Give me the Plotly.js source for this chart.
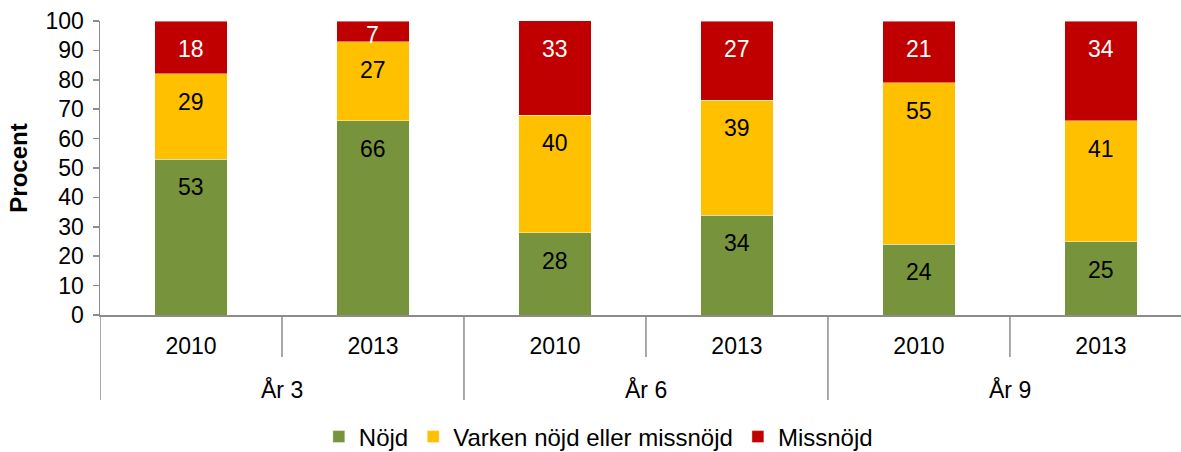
<!DOCTYPE html>
<html>
<head>
<meta charset="utf-8">
<script src="https://cdn.plot.ly/plotly-3.0.1.min.js"></script>
<style>html,body{margin:0;padding:0;background:#fff;}#chart{width:1181px;height:452px;}</style>
</head>
<body>
<div id="chart"></div>
<script>
const groups = ["År 3", "År 3", "År 6", "År 6", "År 9", "År 9"];
const years = ["2010", "2013", "2010", "2013", "2010", "2013"];
const groupNames = ["År 3", "År 6", "År 9"];
const nojd = [53, 66, 28, 34, 24, 25];
const varken = [29, 27, 40, 39, 55, 41];
const missnojd = [18, 7, 33, 27, 21, 34];
const yTicks = [0, 10, 20, 30, 40, 50, 60, 70, 80, 90, 100];

const xs = years.map((_, i) => i);
const FONT = "Liberation Sans, Arial, sans-serif";
const FS = 23;
const PLOT_H = 294; // plot height in px (t=21, b=137 of 452)
const PX_PER_UNIT = PLOT_H / 100;

const series = [
  {name: "Nöjd", vals: nojd, color: "#77933C", txt: "#000"},
  {name: "Varken nöjd eller missnöjd", vals: varken, color: "#FFC000", txt: "#000"},
  {name: "Missnöjd", vals: missnojd, color: "#C00000", txt: "#fff"}
];

const data = series.map(s => ({
  type: "bar", name: s.name, x: xs, y: s.vals, width: 0.4,
  marker: {color: s.color, line: {color: "rgba(255,255,255,0.55)", width: 0.8}},
  textposition: "none", hoverinfo: "skip"
}));

const shapes = [];
const annotations = [];

// data labels: placed near the inside top of each segment (Excel "inside end" style)
const cum = xs.map(() => 0);
series.forEach(s => {
  s.vals.forEach((v, i) => {
    cum[i] += v;
    const top = Math.min(cum[i], 100);
    const shiftPx = Math.min(28, v * PX_PER_UNIT / 2 + 4);
    annotations.push({xref: "x", yref: "y", x: xs[i], y: top - shiftPx / PX_PER_UNIT,
      text: String(v), showarrow: false, xanchor: "center", yanchor: "middle",
      font: {family: FONT, size: FS, color: s.txt}});
  });
});

for (let i = 0; i < years.length - 1; i++) {
  const sameGroup = groups[i] === groups[i + 1];
  shapes.push({type: "line", xref: "x", yref: "paper", x0: i + 0.5, x1: i + 0.5,
    y0: 0, y1: sameGroup ? -0.143 : -0.289, line: {color: "#8c8c8c", width: 1.5}});
}
shapes.push({type: "line", xref: "x", yref: "paper", x0: -0.5, x1: -0.5, y0: 0, y1: -0.289,
  line: {color: "#8c8c8c", width: 1.5}});
groupNames.forEach(g => {
  const idx = groups.map((v, i) => v === g ? i : -1).filter(i => i >= 0);
  const c = idx.reduce((a, b) => a + b, 0) / idx.length;
  annotations.push({xref: "x", yref: "paper", x: c, y: -0.255, text: g, showarrow: false,
    xanchor: "center", yanchor: "middle", font: {family: FONT, size: FS, color: "#000"}});
});

const layout = {
  width: 1181, height: 452,
  margin: {l: 100, r: 0, t: 21, b: 137, autoexpand: false},
  paper_bgcolor: "#fff", plot_bgcolor: "#fff",
  barmode: "stack",
  font: {family: FONT, size: FS, color: "#000"},
  showlegend: true,
  legend: {orientation: "h", x: 0.461, xanchor: "center", y: -0.415, yanchor: "middle",
    font: {family: FONT, size: 24, color: "#000"}, itemwidth: 30, traceorder: "normal"},
  xaxis: {
    range: [-0.5, 5.44], tickvals: xs, ticktext: years,
    showline: true, linecolor: "#8c8c8c", linewidth: 1.5,
    ticks: "outside", ticklen: 10, tickcolor: "rgba(0,0,0,0)",
    showgrid: false, zeroline: false, fixedrange: true, automargin: false,
    tickfont: {family: FONT, size: FS, color: "#000"}
  },
  yaxis: {
    range: [0, 100], tickvals: yTicks,
    showline: true, linecolor: "#8c8c8c", linewidth: 1.5,
    ticks: "outside", ticklen: 6, tickcolor: "#8c8c8c", tickwidth: 1.5,
    ticklabelstandoff: 4,
    showgrid: false, zeroline: false, automargin: false,
    tickfont: {family: FONT, size: FS, color: "#000"},
    title: {text: "<b>Procent</b>", font: {family: FONT, size: 24, color: "#000"}, standoff: 11}
  },
  shapes: shapes,
  annotations: annotations
};

Plotly.newPlot("chart", data, layout, {displayModeBar: false, staticPlot: true});
</script>
</body>
</html>
